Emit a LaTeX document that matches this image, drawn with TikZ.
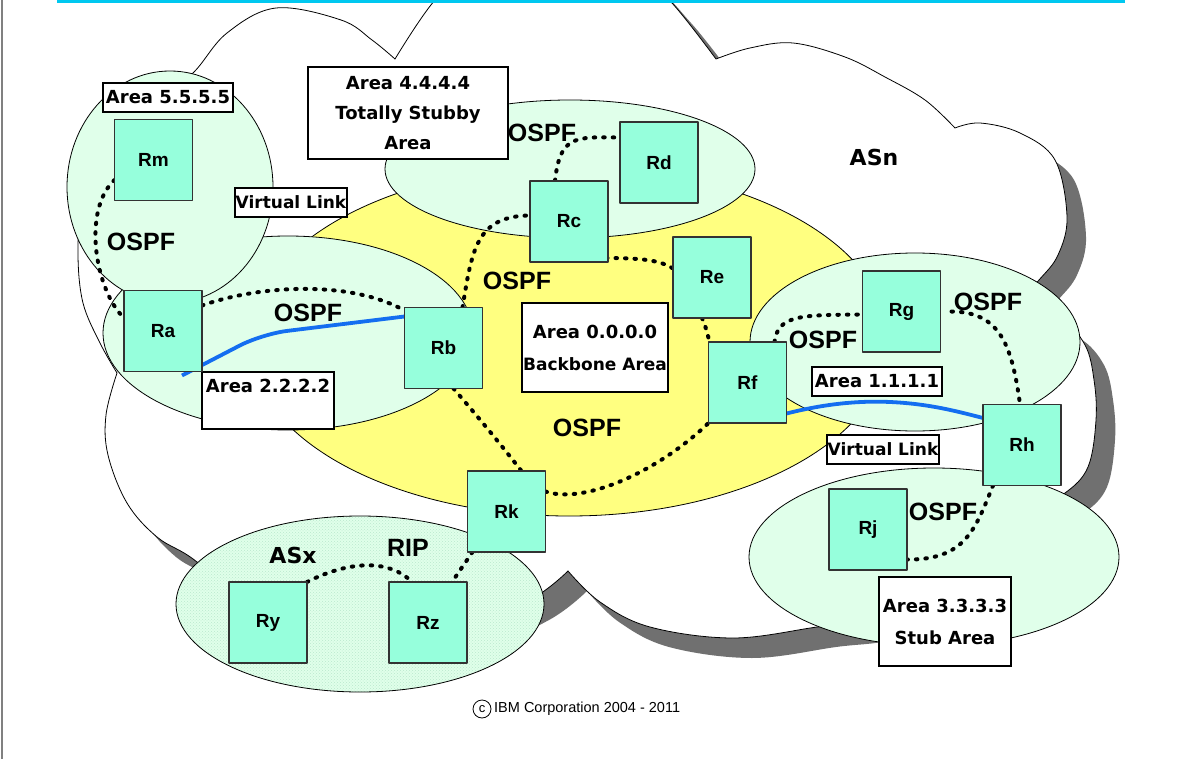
\documentclass[tikz,border=0pt]{standalone}
\usepackage{fontspec}
\setmainfont{Liberation Sans}
\newfontfamily\comicfont{DejaVu Sans}
\usetikzlibrary{calc,patterns}
\definecolor{mint}{RGB}{224,255,234}
\definecolor{bbyellow}{RGB}{255,255,128}
\definecolor{rtr}{RGB}{150,255,220}
\definecolor{shade}{RGB}{112,112,112}
\definecolor{vlblue}{RGB}{20,110,240}
\definecolor{topcyan}{RGB}{0,200,240}
\definecolor{dotmint}{RGB}{185,232,205}
\pgfdeclarelayer{bg}
\pgfdeclarelayer{lines}
\pgfsetlayers{bg,lines,main}
\newcommand\cloudoutline[1]{%
\path[#1] plot[smooth,tension=0.6] coordinates {(160,100) (194,72) (227,33) (276,8) (341,20) (372,40) (395,59)}
 -- plot[smooth,tension=0.6] coordinates {(395,59) (435,0) (480,-38) (555,-52) (630,-35) (672,3) (716,59)}
 -- plot[smooth,tension=0.6] coordinates {(716,59) (750,48) (793,43) (845,57) (885,77) (925,100) (955,128)}
 -- plot[smooth,tension=0.6] coordinates {(955,128) (980,123) (1020,133) (1055,160) (1067,217) (1058,255) (1039,280) (1015,305)}
 -- plot[smooth,tension=0.6] coordinates {(1015,305) (1060,318) (1085,345) (1094,380) (1096,420) (1088,467) (1065,493) (1030,510)}
 -- plot[smooth,tension=0.6] coordinates {(1030,510) (960,585) (880,618) (817,627) (733,638) (650,627) (600,602) (568,571)}
 -- plot[smooth,tension=0.6] coordinates {(568,571) (530,600) (450,635) (360,645) (260,620) (197,562) (157,537) (127,503) (108,455) (106,415) (117,373)}
 -- plot[smooth,tension=0.6] coordinates {(117,373) (100,343) (83,303) (78,255) (82,210) (100,160) (125,125) (160,100)}
 -- cycle;}
\begin{document}
\begin{tikzpicture}[x=1pt,y=-1pt,line join=round,
  router/.style={draw=black!80, line width=1.3pt, fill=rtr, minimum width=78pt, minimum height=81pt, inner sep=0pt, outer sep=0pt, font=\fontsize{19}{22}\selectfont\bfseries},
  lbox/.style={draw=black, line width=1.2pt, fill=white, inner sep=0pt, outer sep=0pt, align=center, font=\comicfont\bfseries\fontsize{18}{30}\selectfont},
  ospf/.style={font=\fontsize{25}{30}\selectfont\bfseries, inner sep=0pt},
  asname/.style={font=\comicfont\bfseries\fontsize{22}{26}\selectfont, inner sep=0pt},
  vlink/.style={vlblue, line width=3.8pt},
  olink/.style={line width=4pt, dash pattern=on 1.5pt off 8pt, line cap=round},
  area/.style={draw=black, line width=0.8pt, fill=mint}]
\useasboundingbox (0,0) rectangle (1177,759);
\begin{pgfonlayer}{bg}
\fill[white] (0,0) rectangle (1177,759);
\begin{scope}
\clip (0,0) rectangle (1177,759);
\cloudoutline{fill=shade, shift={(19,20)}}
\cloudoutline{fill=white, draw=black, line width=0.8pt}
\end{scope}
\draw[fill=bbyellow, line width=0.8pt] (569,341) ellipse (320pt and 175pt);
\draw[area] (570,169) ellipse (185pt and 69pt);
\draw[area] (288,333) ellipse (185pt and 97pt);
\draw[area] (170,187) ellipse (103pt and 116pt);
\draw[area] (915,342) ellipse (165pt and 89pt);
\draw[area] (934,557) ellipse (185pt and 89pt);
\fill[mint] (360,604) ellipse (184pt and 88pt);
\fill[pattern=crosshatch dots, pattern color=dotmint] (360,604) ellipse (184pt and 88pt);
\draw[line width=0.8pt] (360,604) ellipse (184pt and 88pt);
\draw[topcyan, line width=3pt] (57,1.5) -- (1125,1.5);
\draw[black!50, line width=1.5pt] (2,0) -- (2,759);
% label boxes
\node[lbox, minimum width=130pt, minimum height=29pt] (a5) at (168,97.5) {Area 5.5.5.5};
\node[lbox, minimum width=200pt, minimum height=92pt] (a4) at (408,113) {Area 4.4.4.4\\Totally Stubby\\Area};
\node[lbox, minimum width=112pt, minimum height=29pt, font=\comicfont\bfseries\fontsize{17}{30}\selectfont] (vl1) at (291,202.5) {Virtual Link};
\node[lbox, minimum width=132pt, minimum height=57pt] (a2) at (268,400.5) {Area 2.2.2.2\\\phantom{A}};
\node[lbox, minimum width=146pt, minimum height=89pt, font=\comicfont\bfseries\fontsize{18}{32}\selectfont] (a0) at (595,347.5) {Area 0.0.0.0\\{\fontsize{17}{32}\selectfont Backbone Area}};
\node[lbox, minimum width=130pt, minimum height=29pt] (a1) at (877,381.5) {Area 1.1.1.1};
\node[lbox, minimum width=112pt, minimum height=29pt, font=\comicfont\bfseries\fontsize{17}{30}\selectfont] (vl2) at (883,449.5) {Virtual Link};
\node[lbox, minimum width=132pt, minimum height=89pt, font=\comicfont\bfseries\fontsize{18}{32}\selectfont] (a3) at (945,621.5) {Area 3.3.3.3\\Stub Area};
\end{pgfonlayer}
% routers
\node[router] (Rm) at (153.5,160) {Rm};
\node[router] (Ra) at (163,331) {Ra};
\node[router] (Rb) at (443.5,348) {Rb};
\node[router] (Rc) at (569,221.5) {Rc};
\node[router] (Rd) at (659,162.5) {Rd};
\node[router] (Re) at (712,277.5) {Re};
\node[router] (Rf) at (747.5,382.5) {Rf};
\node[router] (Rg) at (901.5,311.5) {Rg};
\node[router] (Rh) at (1022,445) {Rh};
\node[router] (Rj) at (868,529.5) {Rj};
\node[router] (Rk) at (506.5,511.5) {Rk};
\node[router] (Ry) at (268,622.5) {Ry};
\node[router] (Rz) at (428,622.5) {Rz};
% text labels
\node[ospf] (o1) at (141,242) {OSPF};
\node[ospf] (o2) at (308,313) {OSPF};
\node[ospf] (o3) at (517,281) {OSPF};
\node[ospf] (o4) at (542,133) {OSPF};
\node[ospf] (o5) at (587,428) {OSPF};
\node[ospf] (o6) at (988,302) {OSPF};
\node[ospf] (o7) at (823,340) {OSPF};
\node[ospf] (o8) at (943,512) {OSPF};
\node[ospf] (rip) at (408,548) {RIP};
\node[asname] (asn) at (874,157) {ASn};
\node[asname] (asx) at (293,555) {ASx};
\node[draw, circle, line width=0.8pt, minimum size=18pt, inner sep=0pt, font=\fontsize{13}{13}\selectfont] (cc) at (482,709) {c};
\node[anchor=west, inner sep=0pt, font=\fontsize{14.5}{16}\selectfont] (copy) at (494,709) {IBM Corporation 2004 - 2011};
% connectors
\begin{pgfonlayer}{lines}
\draw[vlink, rounded corners=25pt] ($(Ra.south east)+(-20,4)$) -- (262,334) -- ($(Rb.north west)+(0,9)$);
\draw[vlink] ($(Rf.east)+(0,31)$) .. controls (840,400) and (880,400) .. (915,404) .. controls (940,407) and (960,412) .. ($(Rh.west)+(0,-27)$);
\draw[olink] ($(Rm.west)+(0,20)$) .. controls (82,210) and (95,290) .. ($(Ra.west)+(0,-13)$);
\draw[olink] ($(Ra.north east)+(0,15)$) .. controls (260,285) and (350,280) .. ($(Rb.north west)+(0,3)$);
\draw[olink] ($(Rb.north)+(19,0)$) .. controls (472,250) and (476,216) .. ($(Rc.west)+(0,-6)$);
\draw[olink] ($(Rc.north)+(-14,0)$) .. controls (560,135) and (575,137) .. ($(Rd.west)+(0,-25)$);
\draw[olink] ($(Rc.south east)+(-2,-4)$) .. controls (640,258) and (660,260) .. ($(Re.west)+(0,-9)$);
\draw[olink] ($(Re.south)+(-10,0)$) .. controls (706,328) .. ($(Rf.north west)+(1,0)$);
\draw[olink] ($(Rb.south)+(10,0)$) .. controls (485,425) and (505,450) .. ($(Rk.north)+(15,0)$);
\draw[olink] ($(Rk.east)+(0,-20)$) .. controls (585,505) and (660,470) .. (Rf.south west);
\draw[olink] ($(Rk.south west)+(5,0)$) -- ($(Rz.north)+(24,0)$);
\draw[olink] (Ry.north east) .. controls (340,565) and (385,555) .. ($(Rz.north)+(-16,0)$);
\draw[olink] ($(Rf.north east)+(-12,0)$) .. controls (778,315) and (800,315) .. ($(Rg.west)+(0,3)$);
\draw[olink] ($(Rg.east)+(11,0)$) .. controls (1000,312) and (1012,345) .. ($(Rh.north)+(-2,0)$);
\draw[olink] ($(Rh.south west)+(10,0)$) .. controls (975,530) and (965,560) .. ($(Rj.east)+(0,30)$);
\end{pgfonlayer}
\end{tikzpicture}
\end{document}
